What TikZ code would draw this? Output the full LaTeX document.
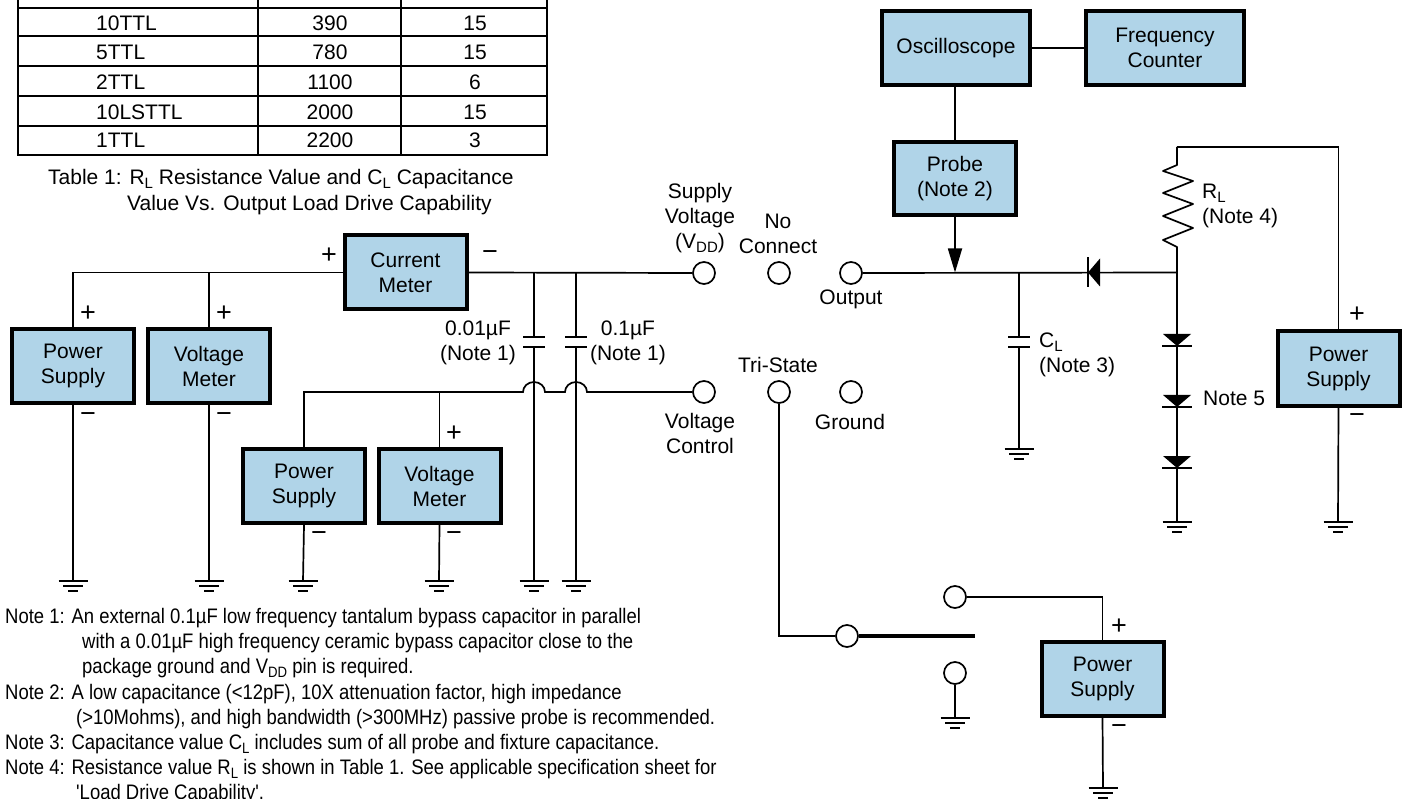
\documentclass[tikz,border=0pt]{standalone}
\usepackage{fontspec}
\setmainfont{Liberation Sans}
\newfontfamily\notefont[FakeStretch=0.88]{Liberation Sans}
\usetikzlibrary{arrows.meta}
\definecolor{boxblue}{RGB}{176,212,232}
\newcommand{\lowsub}[1]{\raisebox{-4pt}{\fontsize{15}{15}\selectfont #1}}
\tikzset{
  wire/.style={line width=1.7pt},
  box/.style={draw,line width=4pt,fill=boxblue,align=center,inner sep=0pt,minimum width=122pt,minimum height=74pt},
  pin/.style={draw,circle,line width=1.7pt,fill=white,inner sep=0pt,minimum size=22pt},
  lbl/.style={align=center,inner sep=0pt},
  sgn/.style={inner sep=0pt,font=\fontsize{27}{27}\selectfont},
  gnd/.pic={
    \draw [line width=1.6pt] (-14.5,0) -- (14.5,0);
    \draw [line width=1.6pt] (-10,5) -- (10,5);
    \draw [line width=1.6pt] (-5,10) -- (5,10);
  },
  capac/.pic={
    \draw [line width=1.7pt] (-11,-5) -- (11,-5);
    \draw [line width=1.7pt] (-11,5) -- (11,5);
  },
  diode/.pic={
    \fill (0,0) -- (-14,-12) -- (14,-12) -- cycle;
    \draw [line width=1.7pt] (-15,0) -- (15,0);
  }
}
\begin{document}
\begin{tikzpicture}[x=1pt,y=-1pt,font=\fontsize{21}{25}\selectfont]
  \useasboundingbox (0,0) rectangle (1408,799);

  % table
  \draw [line width=1.8pt] (18,0) -- (18,155) -- (547,155) -- (547,0);
  \draw [line width=1.8pt] (258,0) -- (258,155);
  \draw [line width=1.8pt] (401,0) -- (401,155);
  \draw [line width=2.4pt] (18,8) -- (547,8);
  \foreach \ypos in {36,66,96,126}
    \draw [line width=1.8pt] (18,\ypos) -- (547,\ypos);
  \foreach \load/\res/\cap/\ypos [count=\i] in {10TTL/390/15/23,5TTL/780/15/52,2TTL/1100/6/82,10LSTTL/2000/15/112,1TTL/2200/3/140} {
    \node [lbl,anchor=west] (load\i) at (96,\ypos) {\load};
    \node [lbl] (res\i) at (330,\ypos) {\res};
    \node [lbl] (cap\i) at (475,\ypos) {\cap};
  }
  \node [lbl,anchor=base west] (capa) at (48,185) {Table 1: R\lowsub{L} Resistance Value and C\lowsub{L} Capacitance};
  \node [lbl,anchor=base west] (capb) at (127,211) {Value Vs. Output Load Drive Capability};

  % instruments
  \node [box] (cm) at (405.5,272.5) {Current\\Meter};
  \node [box] (ps1) at (73,366) {Power\\Supply};
  \node [box] (vm1) at (209,366) {Voltage\\Meter};
  \node [box] (ps2) at (304,486) {Power\\Supply};
  \node [box] (vm2) at (439.5,486) {Voltage\\Meter};
  \node [box,minimum width=148pt] (osc) at (956,48) {Oscilloscope};
  \node [box,minimum width=158pt] (fc) at (1165,48) {Frequency\\Counter};
  \node [box,minimum height=73pt] (probe) at (955,178.5) {Probe\\(Note 2)};
  \node [box] (ps3) at (1338.5,368.5) {Power\\Supply};
  \node [box] (ps4) at (1102.5,678.5) {Power\\Supply};

  % pins
  \node [pin] (vdd) at (704,273) {};
  \node [pin] (nc) at (779,273) {};
  \node [pin] (out) at (851,273) {};
  \node [pin] (vc) at (704,392) {};
  \node [pin] (ts) at (779,392) {};
  \node [pin] (gp) at (851,392) {};
  \node [pin] (sw0) at (847,636) {};
  \node [pin] (sw1) at (955,597) {};
  \node [pin] (sw2) at (955,673) {};

  % grounds
  \foreach \name/\xpos/\ypos in {g1/73/581,g2/209/581,g3/303/581,g4/439/581,g5/534/581,g6/576/581,g7/1019/449,g8/1177/522,g9/1338/522,g10/955/718,g11/1103/788} {
    \coordinate (\name) at (\xpos,\ypos);
    \pic at (\name) {gnd};
  }

  % supply side
  \draw [wire] (ps1.north) |- (cm.west);
  \draw [wire] (vm1.north) -- (vm1.north |- cm.west);
  \draw [wire] (cm.east) -- (vdd.west);
  \draw [wire] (ps1.south) -- (g1);
  \draw [wire] (vm1.south) -- (g2);
  \draw [wire] (ps2.south) -- (g3);
  \draw [wire] (vm2.south) -- (g4);

  % bypass capacitors
  \coordinate (c1) at (534,342);
  \coordinate (c2) at (576,342);
  \pic at (c1) {capac};
  \pic at (c2) {capac};
  \draw [wire] (c1 |- cm.east) -- ([yshift=5pt]c1);
  \draw [wire] (c2 |- cm.east) -- ([yshift=5pt]c2);
  \draw [wire] ([yshift=-5pt]c1) -- (g5);
  \draw [wire] ([yshift=-5pt]c2) -- (g6);

  % voltage control line hops over the capacitors
  \draw [wire] (vc.west) -- (587,392) arc[start angle=0,end angle=180,x radius=11pt,y radius=10pt]
    -- (545,392) arc[start angle=0,end angle=180,x radius=11pt,y radius=10pt]
    -- (ps2.north |- vc.west) -- (ps2.north);
  \draw [wire] (vm2.north) -- (vm2.north |- vc.west);

  % output side
  \coordinate (rj) at (1177,272.5);
  \coordinate (rtop) at (1177,147);
  \coordinate (clc) at (1019,342);
  \draw [wire] (out.east) -- (rj);
  \draw [wire] (osc.east |- fc.west) -- (fc.west);
  \draw [wire] (probe.north |- osc.south) -- (probe.north);
  \draw [wire,-{Triangle[length=24pt,width=14pt]}] (probe.south) -- (probe.south |- rj);
  \pic at (clc) {capac};
  \draw [wire] (clc |- rj) -- ([yshift=5pt]clc);
  \draw [wire] ([yshift=-5pt]clc) -- (g7);
  \pic [rotate=-90] at (1088,272.5) {diode};

  % load
  \draw [wire,line join=round] (rj) -- (1177,247) -- (1163,240) -- (1193,228) -- (1163,216) -- (1193,204) -- (1163,193) -- (1193,181) -- (1163,171) -- (1177,165) -- (rtop);
  \draw [wire] (rtop) -| (ps3.north);
  \draw [wire] (rj) -- (g8);
  \pic at (1177,346) {diode};
  \pic at (1177,407) {diode};
  \pic at (1177,468) {diode};
  \draw [wire] (ps3.south) -- (g9);

  % tri-state switch
  \draw [wire] (ts.south) |- (sw0.west);
  \coordinate (swend) at (975,636);
  \draw [line width=4pt] (sw0.east) -- (swend);
  \draw [wire] (sw1.east) -| (ps4.north);
  \draw [wire] (sw2.south) -- (g10);
  \draw [wire] (ps4.south) -- (g11);

  % polarity marks
  \foreach \name/\xpos/\ypos in {pa/88/314,pb/224/314,pc/329/256,pd/454/434,pe/1357/315,pf/1119,627} {}
  \node [sgn] (pa) at (88,314) {+};
  \node [sgn] (pb) at (224,314) {+};
  \node [sgn] (pc) at (329,256) {+};
  \node [sgn] (pd) at (454,434) {+};
  \node [sgn] (pe) at (1357,315) {+};
  \node [sgn] (pf) at (1119,627) {+};
  \node [sgn] (ma) at (88,418) {−};
  \node [sgn] (mb) at (224,418) {−};
  \node [sgn] (mc) at (490,256) {−};
  \node [sgn] (md) at (319,537) {−};
  \node [sgn] (me) at (454,537) {−};
  \node [sgn] (mf) at (1357,419) {−};
  \node [sgn] (mg) at (1119,730) {−};

  % labels
  \node [lbl] (lvdd) at (700,218) {Supply\\Voltage\\(V\lowsub{DD})};
  \node [lbl] (lnc) at (778,233.5) {No\\Connect};
  \node [lbl] (lout) at (851,299) {Output};
  \node [lbl] (lts) at (778,365) {Tri-State};
  \node [lbl] (lvc) at (700,433.5) {Voltage\\Control};
  \node [lbl] (lgp) at (850,422) {Ground};
  \node [lbl] (lc1) at (478,343) {0.01µF\\(Note 1)};
  \node [lbl] (lc2) at (628,343) {0.1µF\\(Note 1)};
  \node [lbl,anchor=west,align=left] (lcl) at (1039,355) {C\lowsub{L}\\(Note 3)};
  \node [lbl,anchor=west,align=left] (lrl) at (1202,206) {R\lowsub{L}\\(Note 4)};
  \node [lbl,anchor=west] (ln5) at (1203,398) {Note 5};

  % notes
  \foreach \xpos/\ypos/\txt [count=\i] in {
    5/623/{Note 1: An external 0.1µF low frequency tantalum bypass capacitor in parallel},
    82/648/{with a 0.01µF high frequency ceramic bypass capacitor close to the},
    82/673/{package ground and V\lowsub{DD} pin is required.},
    5/699/{Note 2: A low capacitance (<12pF), 10X attenuation factor, high impedance},
    76/724/{(>10Mohms), and high bandwidth (>300MHz) passive probe is recommended.},
    5/749/{Note 3: Capacitance value C\lowsub{L} includes sum of all probe and fixture capacitance.},
    5/774/{Note 4: Resistance value R\lowsub{L} is shown in Table 1. See applicable specification sheet for},
    76/799/{'Load Drive Capability'.}}
    \node [lbl,anchor=base west,font=\notefont\fontsize{21}{25}\selectfont] (note\i) at (\xpos,\ypos) {\txt};
\end{tikzpicture}
\end{document}
